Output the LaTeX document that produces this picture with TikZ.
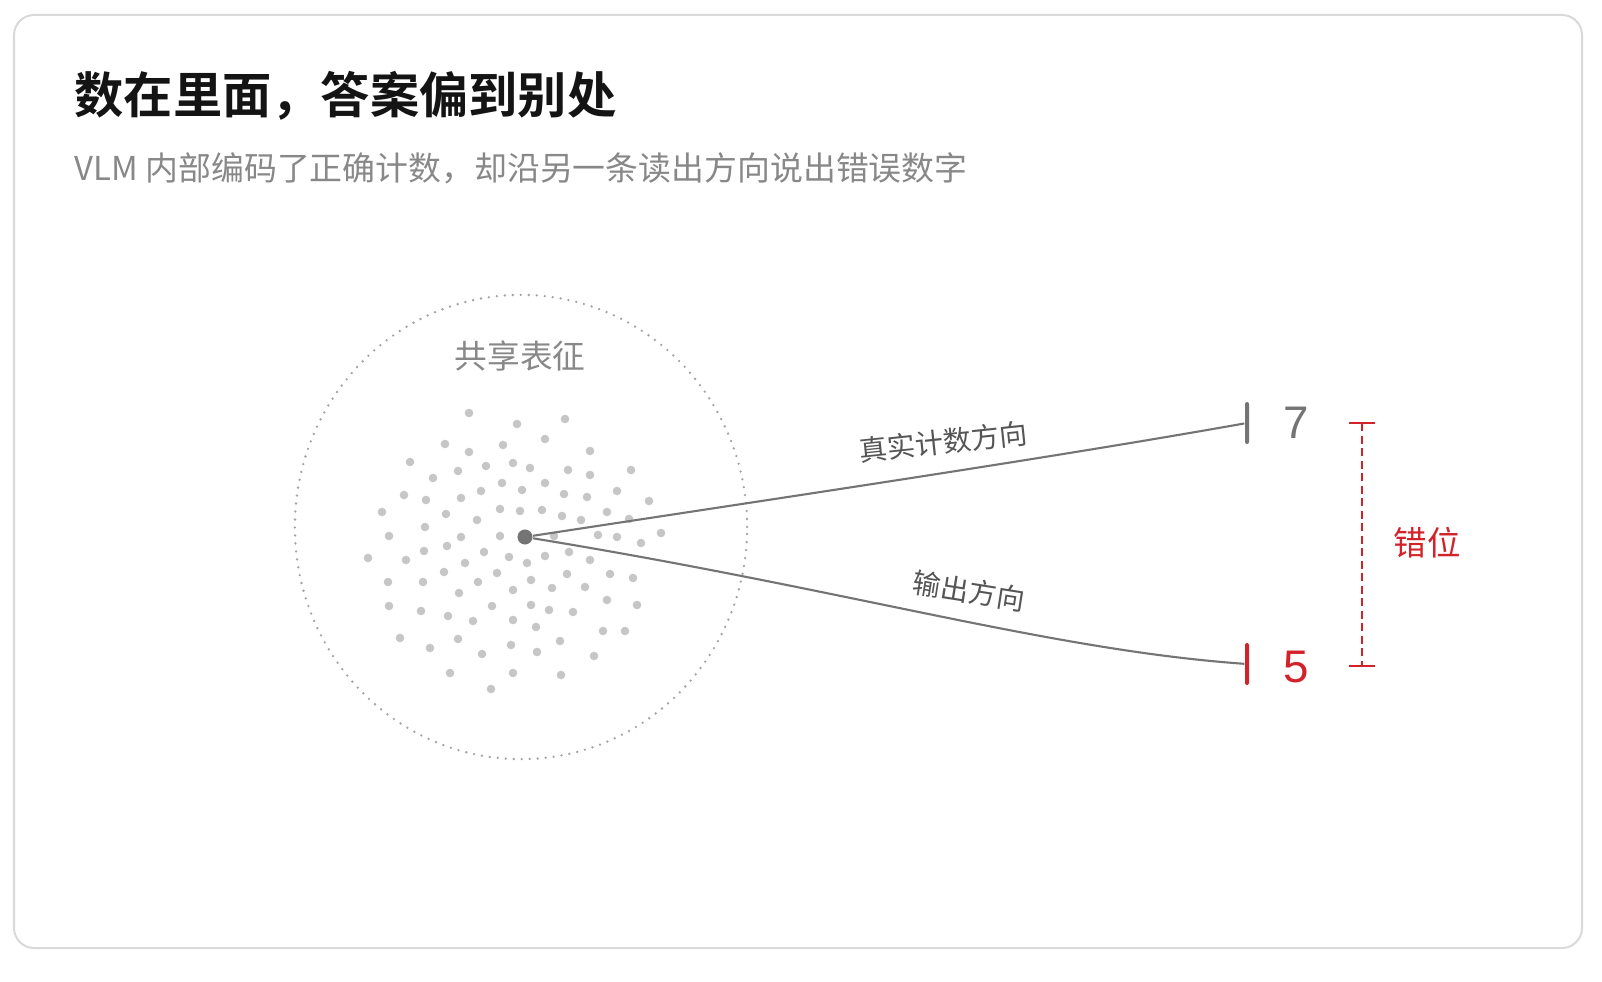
\documentclass[tikz,border=0pt]{standalone}
\usepackage{fontspec}
\setmainfont{Noto Sans CJK SC}[BoldFont={Noto Sans CJK SC Bold}]
\newfontfamily\digitfont{Liberation Sans}
\usetikzlibrary{positioning}

\definecolor{inkgray}{HTML}{747474}
\definecolor{dotgray}{HTML}{C6C6C6}
\definecolor{ringgray}{HTML}{A3A3A3}
\definecolor{subgray}{HTML}{888888}
\definecolor{labelgray}{HTML}{555555}
\definecolor{errred}{HTML}{D2232A}
\definecolor{framegray}{HTML}{D9D9D9}

\begin{document}
\begin{tikzpicture}[x=0.01cm,y=-0.01cm,
    cardframe/.style={draw=framegray,line width=0.02cm,fill=white,rounded corners=0.2cm},
    titletext/.style={inner sep=0pt,anchor=west,text=black!92,font=\fontsize{14pt}{16pt}\selectfont\bfseries},
    subtext/.style={inner sep=0pt,anchor=west,text=subgray,font=\fontsize{9.35pt}{11pt}\selectfont},
    grouptext/.style={inner sep=0pt,text=subgray,font=\fontsize{9.3pt}{11pt}\selectfont},
    ringline/.style={draw=ringgray,line width=0.026cm,line cap=round,dash pattern=on 0pt off 0.08cm},
    hubpt/.style={circle,fill=inkgray,inner sep=0pt,minimum size=0.15cm},
    tickmark/.style={rectangle,inner sep=0pt,minimum width=0.04cm,minimum height=0.42cm,rounded corners=0.02cm},
    ray/.style={draw=inkgray,line width=0.021cm},
    raytext/.style={inner sep=0pt,text=labelgray,font=\fontsize{8pt}{10pt}\selectfont},
    digit/.style={inner sep=0pt,font=\fontsize{13pt}{15pt}\digitfont},
    gapline/.style={draw=errred,line width=0.02cm,dash pattern=on 0.08cm off 0.045cm},
    gapbar/.style={draw=errred,line width=0.02cm},
    gaptext/.style={inner sep=0pt,text=errred,font=\fontsize{9.5pt}{11pt}\selectfont}]
  \useasboundingbox (0,0) rectangle (1602,982);
  \fill[white] (0,0) rectangle (1602,982);
  \draw[cardframe] (14,15) rectangle (1582,948);

  \node[titletext] (title) at (74,96) {数在里面，答案偏到别处};
  \node[subtext] (subtitle) at (74,168) {VLM 内部编码了正确计数，却沿另一条读出方向说出错误数字};

  \draw[ringline] (521,527) ellipse[x radius=2.26cm,y radius=2.32cm];
  \node[grouptext] (shared) at (520,356) {共享表征};
  \foreach \px/\py in {469/413,517/424,565/419,445/444,469/452,503/445,545/439,590/451,
      410/462,433/478,458/471,486/466,513/463,530/468,568/470,590/475,631/470,
      404/495,426/500,461/498,481/491,502/483,522/490,545/483,564/494,587/497,617/491,649/501,
      382/512,446/514,477/520,500/509,520/511,542/510,562/516,581/520,607/512,629/519,
      389/536,425/527,461/537,500/536,554/536,598/535,617/537,641/543,661/533,
      368/558,406/560,424/551,447/546,484/552,465/563,509/557,527/563,545/556,569/552,590/560,
      388/582,423/582,444/572,478/582,497/573,531/580,552/588,567/574,585/587,610/574,633/578,
      389/606,421/611,448/616,459/593,492/606,513/590,531/605,549/610,573/612,607/600,637/605,
      400/638,430/648,458/639,473/621,513/620,536/627,560/641,603/631,625/631,
      482/654,511/645,537/652,594/656,
      450/673,513/673,561/675,
      491/689}
    \fill[dotgray] (\px,\py) circle[radius=0.043cm];

  \node[hubpt] (hub) at (525,537) {};
  \node[tickmark,fill=inkgray] (tick7) at (1247,423) {};
  \node[tickmark,fill=errred] (tick5) at (1247,664) {};
  \draw[ray] (hub) .. controls (800,495) and (1050,458) .. (tick7);
  \draw[ray] (hub) .. controls (850,590) and (1050,650) .. (tick5);
  \node[raytext,rotate=6] (truelabel) at (943,442) {真实计数方向};
  \node[raytext,rotate=-9] (outlabel) at (969,591) {输出方向};
  \node[digit,text=inkgray] (seven) at (1296,423) {7};
  \node[digit,text=errred] (five) at (1296,667) {5};

  \coordinate (gaptop) at (1362,423);
  \coordinate (gapbot) at (1362,666);
  \draw[gapline] (gaptop) -- (gapbot);
  \draw[gapbar] ([xshift=-0.13cm]gaptop) -- ([xshift=0.13cm]gaptop);
  \draw[gapbar] ([xshift=-0.13cm]gapbot) -- ([xshift=0.13cm]gapbot);
  \node[gaptext] (gaplabel) at (1427,543) {错位};
\end{tikzpicture}
\end{document}
